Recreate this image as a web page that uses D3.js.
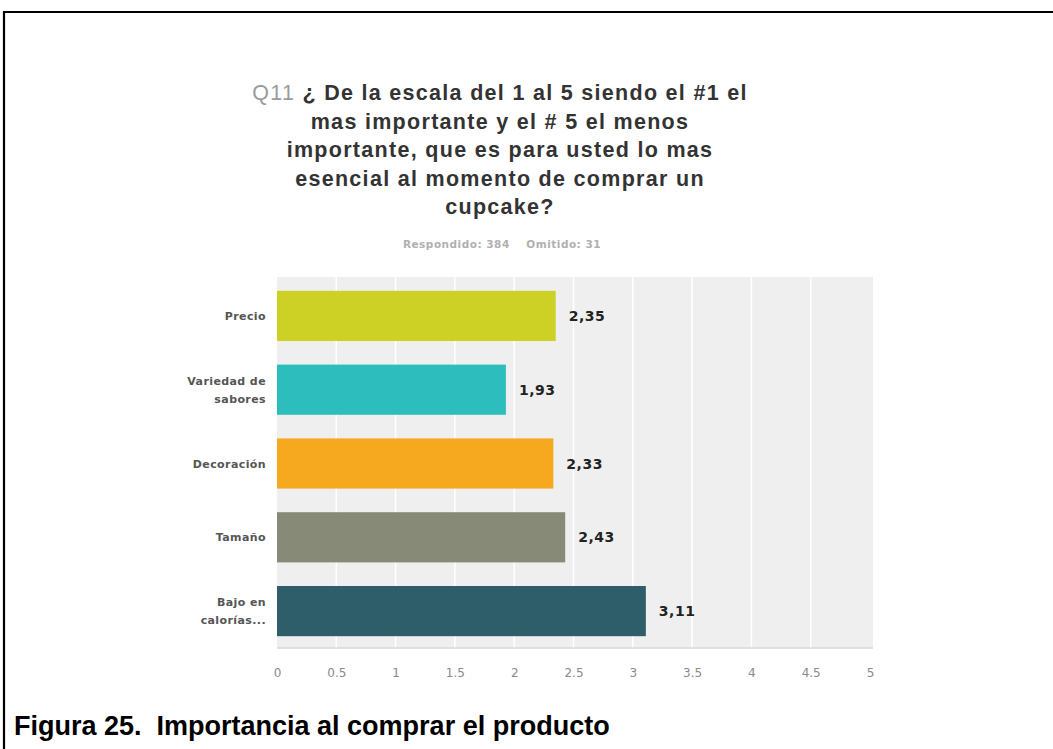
<!DOCTYPE html>
<html>
<head>
<meta charset="utf-8">
<script src="https://cdn.jsdelivr.net/npm/d3@7"></script>
<style>
  html, body { margin: 0; padding: 0; background: #ffffff; }
  svg { display: block; }
</style>
</head>
<body>
<svg id="chart" width="1053" height="749"></svg>
<script>
// Survey question Q11: average rank (1 = most important, 5 = least)
const categories = ["Precio", "Variedad de sabores", "Decoración", "Tamaño", "Bajo en calorías..."];
const categoryLines = [["Precio"], ["Variedad de", "sabores"], ["Decoración"], ["Tamaño"], ["Bajo en", "calorías..."]];
const averages = [2.35, 1.93, 2.33, 2.43, 3.11];
const barColors = ["#cdd126", "#2ebdbd", "#f6a81f", "#878a77", "#2f5e6b"];
const tickValues = [0, 0.5, 1, 1.5, 2, 2.5, 3, 3.5, 4, 4.5, 5];
const tickLabels = ["0", "0.5", "1", "1.5", "2", "2.5", "3", "3.5", "4", "4.5", "5"];
const titleLines = [
  "¿ De la escala del 1 al 5 siendo el #1 el",
  "mas importante y el # 5 el menos",
  "importante, que es para usted lo mas",
  "esencial al momento de comprar un",
  "cupcake?"
];
const questionId = "Q11";
const subtitle = "Respondido: 384    Omitido: 31";
const caption = "Figura 25.  Importancia al comprar el producto";

const svg = d3.select("#chart");

// Document frame (open to the right and bottom)
svg.append("path")
  .attr("d", "M4,749 L4,12 L1053,12")
  .attr("fill", "none")
  .attr("stroke", "#000")
  .attr("stroke-width", 2.2);

// Title block
const titleX = 500;
const title = svg.append("g")
  .attr("font-family", "'Liberation Sans', Arial, sans-serif")
  .attr("font-weight", "bold")
  .attr("font-size", 21.5)
  .attr("letter-spacing", 1.3)
  .attr("text-anchor", "middle");

titleLines.forEach((line, i) => {
  const t = title.append("text")
    .attr("x", titleX)
    .attr("y", 100 + i * 28.5)
    .attr("fill", "#333333");
  if (i === 0) {
    t.append("tspan").attr("fill", "#9a9a9a").attr("font-weight", "normal").text(questionId + " ");
  }
  t.append("tspan").text(line);
});

svg.append("text")
  .attr("x", titleX + 2)
  .attr("y", 248)
  .attr("text-anchor", "middle")
  .attr("font-family", "'DejaVu Sans', Verdana, sans-serif")
  .attr("font-size", 10.5)
  .attr("font-weight", "bold")
  .attr("letter-spacing", 0.5)
  .attr("fill", "#b0b0b0")
  .attr("xml:space", "preserve")
  .style("white-space", "pre")
  .text(subtitle);

// Scales
const x = d3.scaleLinear().domain([0, 5]).range([277, 870]);
const y = d3.scaleBand().domain(categories).range([279, 648]).paddingInner(0.32).paddingOuter(0.16);

// Plot background
svg.append("rect")
  .attr("x", x(0))
  .attr("y", 277)
  .attr("width", x(5) - x(0) + 3)
  .attr("height", 648 - 277)
  .attr("fill", "#efefef");

// Vertical grid lines
svg.append("g")
  .selectAll("line")
  .data(tickValues.filter(v => v > 0 && v < 5))
  .join("line")
  .attr("x1", d => x(d))
  .attr("x2", d => x(d))
  .attr("y1", 277)
  .attr("y2", 648)
  .attr("stroke", "#ffffff")
  .attr("stroke-width", 1.5);

// Baseline
svg.append("line")
  .attr("x1", x(0))
  .attr("x2", x(5) + 3)
  .attr("y1", 648)
  .attr("y2", 648)
  .attr("stroke", "#d9d9d9")
  .attr("stroke-width", 1.5);

// Bars
svg.append("g")
  .selectAll("rect")
  .data(averages)
  .join("rect")
  .attr("x", x(0))
  .attr("y", (d, i) => y(categories[i]))
  .attr("width", d => x(d) - x(0))
  .attr("height", y.bandwidth())
  .attr("fill", (d, i) => barColors[i]);

// Value labels
const fmt = v => d3.format(".2f")(v).replace(".", ",");
svg.append("g")
  .selectAll("text")
  .data(averages)
  .join("text")
  .attr("x", d => x(d) + 13)
  .attr("y", (d, i) => y(categories[i]) + y.bandwidth() / 2 + 5)
  .attr("font-family", "'DejaVu Sans', Verdana, sans-serif")
  .attr("font-weight", "bold")
  .attr("font-size", 14)
  .attr("letter-spacing", 0.5)
  .attr("fill", "#222222")
  .text(fmt);

// Category labels
const catG = svg.append("g")
  .attr("font-family", "'DejaVu Sans', Verdana, sans-serif")
  .attr("font-weight", "bold")
  .attr("font-size", 11)
  .attr("letter-spacing", 0.4)
  .attr("fill", "#555555")
  .attr("text-anchor", "end");

categories.forEach((c, i) => {
  const lines = categoryLines[i];
  const cy = y(c) + y.bandwidth() / 2;
  const lh = 18;
  const t = catG.append("text");
  lines.forEach((ln, k) => {
    t.append("tspan")
      .attr("x", 266)
      .attr("y", cy + 4 + (k - (lines.length - 1) / 2) * lh)
      .text(ln);
  });
});

// X axis labels
const axis = d3.axisBottom(x)
  .tickValues(tickValues)
  .tickFormat((d, i) => tickLabels[i])
  .tickSize(0)
  .tickPadding(20);

const axisG = svg.append("g")
  .attr("transform", "translate(0,648)")
  .call(axis);
axisG.select(".domain").remove();
axisG.selectAll("text")
  .attr("font-family", "'DejaVu Sans', Verdana, sans-serif")
  .attr("font-size", 12)
  .attr("fill", "#8a8a8a");

// Figure caption
svg.append("text")
  .attr("x", 14)
  .attr("y", 735)
  .attr("font-family", "'Liberation Sans', Arial, sans-serif")
  .attr("font-weight", "bold")
  .attr("font-size", 27)
  .attr("fill", "#000000")
  .attr("xml:space", "preserve")
  .style("white-space", "pre")
  .text(caption);
</script>
</body>
</html>
